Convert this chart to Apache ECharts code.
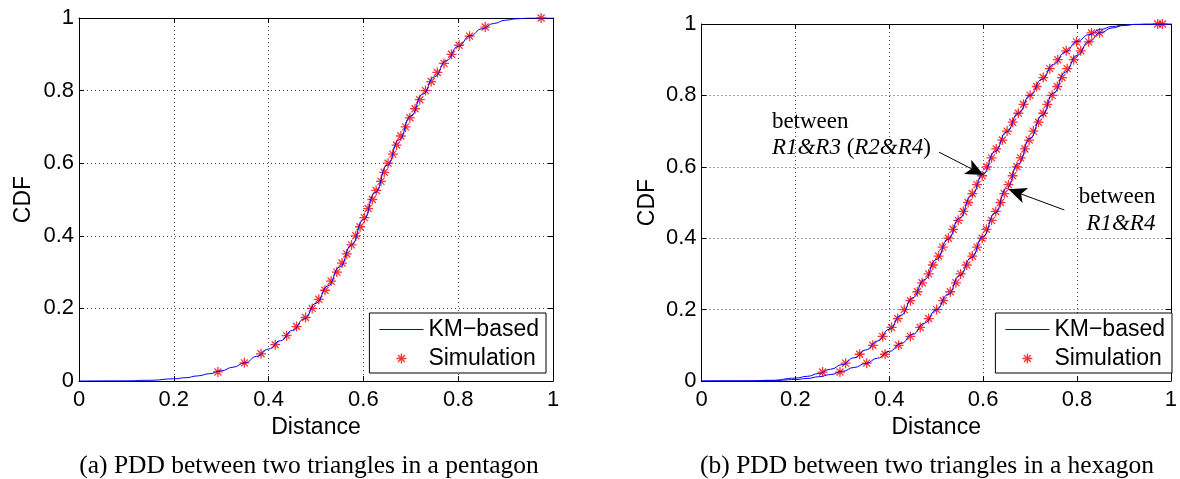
<!DOCTYPE html>
<html>
<head>
<meta charset="utf-8">
<script src="https://cdn.jsdelivr.net/npm/echarts@6/dist/echarts.min.js"></script>
<style>
  html, body { margin: 0; padding: 0; background: #fff; }
  #chart { width: 1180px; height: 479px; }
</style>
</head>
<body>
<div id="chart"></div>
<script>
// CDF level of each simulated point (same levels for every curve)
const cdfLevels = [0.025, 0.05, 0.075, 0.1, 0.125, 0.15, 0.175, 0.2, 0.225, 0.25,
  0.275, 0.3, 0.325, 0.35, 0.375, 0.4, 0.425, 0.45, 0.475, 0.5,
  0.525, 0.55, 0.575, 0.6, 0.625, 0.65, 0.675, 0.7, 0.725, 0.75,
  0.775, 0.8, 0.825, 0.85, 0.875, 0.9, 0.925, 0.95, 0.975, 1.0];

// (a) pentagon, simulated distances
const pentSimX = [0.293, 0.349, 0.384, 0.414, 0.438, 0.459, 0.478, 0.492, 0.506, 0.519,
  0.532, 0.544, 0.555, 0.565, 0.575, 0.584, 0.593, 0.602, 0.610, 0.619,
  0.627, 0.637, 0.644, 0.652, 0.662, 0.670, 0.679, 0.689, 0.698, 0.709,
  0.719, 0.731, 0.743, 0.756, 0.770, 0.786, 0.802, 0.824, 0.857, 0.975];

// (b) hexagon, simulated distances: R1&R3 and R1&R4
const hexSimX13 = [0.258, 0.307, 0.337, 0.365, 0.386, 0.405, 0.418, 0.432, 0.445, 0.460,
  0.470, 0.484, 0.493, 0.505, 0.514, 0.526, 0.536, 0.547, 0.558, 0.568,
  0.577, 0.587, 0.598, 0.608, 0.618, 0.628, 0.641, 0.651, 0.663, 0.675,
  0.686, 0.700, 0.714, 0.728, 0.742, 0.759, 0.777, 0.799, 0.831, 0.972];
const hexSimX14 = [0.295, 0.352, 0.391, 0.420, 0.445, 0.466, 0.484, 0.501, 0.515, 0.530,
  0.542, 0.552, 0.565, 0.577, 0.587, 0.598, 0.607, 0.618, 0.627, 0.637,
  0.645, 0.654, 0.663, 0.672, 0.680, 0.689, 0.698, 0.707, 0.718, 0.728,
  0.737, 0.747, 0.758, 0.768, 0.779, 0.793, 0.808, 0.825, 0.848, 0.982];

// KM-based analytical curves, read along the distance axis
const kmX = [0, 0.1, 0.15, 0.2, 0.225, 0.25, 0.275, 0.3, 0.325, 0.35,
  0.375, 0.4, 0.425, 0.45, 0.475, 0.5, 0.525, 0.55, 0.575, 0.6,
  0.625, 0.65, 0.675, 0.7, 0.725, 0.75, 0.775, 0.8, 0.825, 0.85,
  0.875, 0.9, 0.925, 0.95, 1];
const pentKmY = [0, 0.0005, 0.002, 0.006, 0.009, 0.014, 0.02, 0.028, 0.038, 0.05,
  0.068, 0.088, 0.111, 0.139, 0.171, 0.214, 0.262, 0.314, 0.375, 0.444,
  0.519, 0.594, 0.664, 0.73, 0.79, 0.838, 0.883, 0.922, 0.951, 0.97,
  0.985, 0.994, 0.998, 1, 1];
const hexKmY13 = [0, 0.0004, 0.002, 0.008, 0.013, 0.021, 0.033, 0.046, 0.065, 0.087,
  0.112, 0.145, 0.184, 0.233, 0.284, 0.34, 0.397, 0.457, 0.519, 0.58,
  0.642, 0.698, 0.75, 0.8, 0.845, 0.887, 0.922, 0.951, 0.97, 0.985,
  0.993, 0.997, 0.999, 1, 1];
const hexKmY14 = [0, 0.0002, 0.001, 0.004, 0.007, 0.012, 0.018, 0.027, 0.038, 0.049,
  0.064, 0.083, 0.105, 0.131, 0.162, 0.199, 0.242, 0.295, 0.346, 0.405,
  0.47, 0.539, 0.609, 0.68, 0.743, 0.807, 0.865, 0.912, 0.95, 0.976,
  0.989, 0.996, 0.999, 1, 1];

const legendNames = ['KM−based', 'Simulation'];

const SANS = 'Liberation Sans';
const SERIF = 'Liberation Serif';
// matlab style asterisk marker
const STAR = 'path://M5,0L5,10M0,5L10,5M1.5,1.5L8.5,8.5M1.5,8.5L8.5,1.5';

const zip = (xs, ys) => xs.map((x, i) => [x, ys[i]]);

function mainX(gridIndex) {
  return {
    type: 'value', gridIndex, position: 'bottom', min: 0, max: 1, interval: 0.2,
    name: 'Distance', nameLocation: 'middle', nameGap: 30,
    nameTextStyle: { fontFamily: SANS, fontSize: 23, color: '#000' },
    axisLine: { lineStyle: { color: '#000', width: 1 } },
    axisTick: { inside: true, length: 5, lineStyle: { color: '#000' } },
    axisLabel: { fontFamily: SANS, fontSize: 22, color: '#000', margin: 8 },
    splitLine: { show: true, lineStyle: { color: '#444', width: 1, type: [1, 3] } }
  };
}
function mainY(gridIndex, gap) {
  return {
    type: 'value', gridIndex, position: 'left', min: 0, max: 1, interval: 0.2,
    name: 'CDF', nameLocation: 'middle', nameGap: gap,
    nameTextStyle: { fontFamily: SANS, fontSize: 23, color: '#000' },
    axisLine: { lineStyle: { color: '#000', width: 1 } },
    axisTick: { inside: true, length: 5, lineStyle: { color: '#000' } },
    axisLabel: { fontFamily: SANS, fontSize: 22, color: '#000', margin: 5 },
    splitLine: { show: true, lineStyle: { color: '#444', width: 1, type: [1, 3] } }
  };
}
// top / right edges of the box, ticks only
function frame(gridIndex, position) {
  return {
    type: 'value', gridIndex, position, min: 0, max: 1, interval: 0.2,
    axisLine: { show: true, onZero: false, lineStyle: { color: '#000', width: 1 } },
    axisTick: { show: true, inside: true, length: 5, lineStyle: { color: '#000' } },
    axisLabel: { show: false },
    splitLine: { show: false }
  };
}
function legendAt(right) {
  return {
    orient: 'vertical', right, bottom: 106,
    data: [
      { name: legendNames[0], icon: 'path://M0,0L44,0L44,1L0,1Z',
        itemStyle: { color: '#0000ff', borderWidth: 0 } },
      { name: legendNames[1] }
    ],
    selectedMode: false,
    backgroundColor: '#fff', borderColor: '#000', borderWidth: 1,
    padding: [5, 7, 3, 10], itemGap: 6, itemWidth: 44, itemHeight: 10,
    textStyle: { fontFamily: SANS, fontSize: 23, color: '#000' },
    itemStyle: { borderWidth: 1.3 }
  };
}
function kmSeries(axis, data, extra) {
  return Object.assign({
    name: legendNames[0], type: 'line', xAxisIndex: axis, yAxisIndex: axis,
    data, smooth: 0.5, smoothMonotone: 'x', symbol: 'none',
    lineStyle: { color: '#0000ff', width: 1 }, itemStyle: { color: '#0000ff' },
    z: 3, animation: false
  }, extra || {});
}
function simSeries(axis, data) {
  return {
    name: legendNames[1], type: 'scatter', xAxisIndex: axis, yAxisIndex: axis,
    data, symbol: STAR, symbolSize: 10,
    itemStyle: { color: 'transparent', borderColor: '#ff0000', borderWidth: 1.3 },
    z: 2, animation: false
  };
}

const chart = echarts.init(document.getElementById('chart'), null, { renderer: 'canvas' });
chart.setOption({
  backgroundColor: '#fff',
  animation: false,
  grid: [
    { left: 79, top: 18, width: 474, height: 363 },
    { left: 701.5, top: 24, width: 474.5, height: 357 }
  ],
  xAxis: [mainX(0), frame(0, 'top'), mainX(1), frame(1, 'top')],
  yAxis: [mainY(0, 44), frame(0, 'right'), mainY(1, 42), frame(1, 'right')],
  legend: [legendAt(634), legendAt(8)],
  series: [
    simSeries(0, zip(pentSimX, cdfLevels)),
    kmSeries(0, zip(kmX, pentKmY)),
    simSeries(2, zip(hexSimX13, cdfLevels)),
    simSeries(2, zip(hexSimX14, cdfLevels)),
    kmSeries(2, zip(kmX, hexKmY13), {
      markLine: {
        silent: true, animation: false,
        symbol: ['none', 'arrow'], symbolSize: [12, 18],
        lineStyle: { color: '#000', width: 1, type: 'solid' },
        itemStyle: { color: '#000' },
        label: { show: false },
        data: [
          [{ coord: [0.506, 0.641] }, { coord: [0.601, 0.577] }],
          [{ coord: [0.773, 0.479] }, { coord: [0.654, 0.537] }]
        ]
      },
      markPoint: {
        silent: true, animation: false, symbol: 'circle', symbolSize: 0,
        label: {
          show: true, color: '#000', fontFamily: SERIF, fontSize: 23, distance: 0,
          rich: { i: { fontStyle: 'italic', fontFamily: SERIF, fontSize: 23, color: '#000' } }
        },
        data: [
          { coord: [0.15, 0.726], label: { position: 'right', formatter: 'between' } },
          { coord: [0.15, 0.652], label: { position: 'right', formatter: '{i|R1&R3} ({i|R2&R4})' } },
          { coord: [0.967, 0.515], label: { position: 'left', formatter: 'between' } },
          { coord: [0.967, 0.44], label: { position: 'left', formatter: '{i|R1&R4}' } }
        ]
      }
    }),
    kmSeries(2, zip(kmX, hexKmY14))
  ],
  graphic: [
    { type: 'text', x: 309, y: 466, silent: true,
      style: { text: '(a) PDD between two triangles in a pentagon', font: '25.5px "Liberation Serif"', fill: '#000', align: 'center', verticalAlign: 'middle' } },
    { type: 'text', x: 927, y: 466, silent: true,
      style: { text: '(b) PDD between two triangles in a hexagon', font: '25.5px "Liberation Serif"', fill: '#000', align: 'center', verticalAlign: 'middle' } }
  ]
});
</script>
</body>
</html>
